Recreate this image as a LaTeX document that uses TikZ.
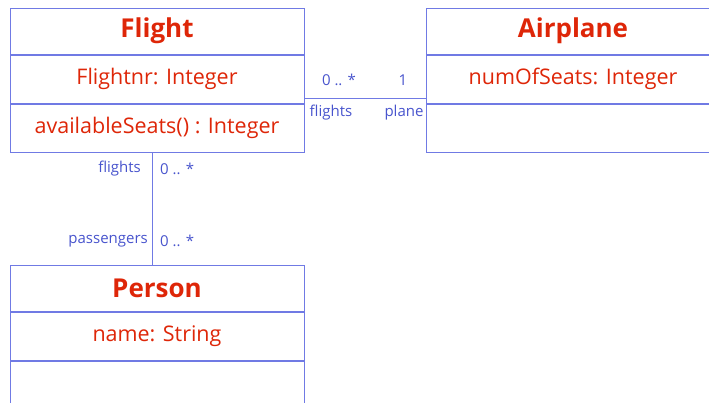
\documentclass[tikz,border=0pt]{standalone}
\usepackage{fontspec}
\setmainfont{Open Sans}
\usetikzlibrary{positioning}

\definecolor{classred}{RGB}{222,38,8}
\definecolor{boxblue}{RGB}{112,122,228}
\definecolor{roleblue}{RGB}{72,84,205}

\begin{document}
\begin{tikzpicture}[x=1pt, y=1pt,
    compart/.style={rectangle, draw=boxblue, line width=1pt, inner sep=0pt,
        minimum width=294pt, minimum height=48pt, text=classred,
        font=\fontsize{21.5}{21.5}\selectfont},
    classname/.style={compart, minimum height=46pt,
        font=\fontsize{26}{26}\selectfont\bfseries},
    role/.style={inner sep=1pt, text=roleblue, font=\fontsize{15}{15}\selectfont},
    assoc/.style={draw=boxblue, line width=1pt}
]
\useasboundingbox (0,0) rectangle (709,-402);
\clip (0,0) rectangle (709,-402);

% Flight
\node[classname] (flight) at (157,-31) {Flight};
\node[compart, below=0pt of flight] (flightattr) {Flightnr: Integer};
\node[compart, below=0pt of flightattr] (flightops) {availableSeats() : Integer};

% Airplane
\node[classname] (plane) at (573,-31) {Airplane};
\node[compart, below=0pt of plane] (planeattr) {numOfSeats: Integer};
\node[compart, below=0pt of planeattr] (planeops) {};

% Person
\node[classname] (person) at (157,-288) {Person};
\node[compart, below=0pt of person] (personattr) {name: String};
\node[compart, below=0pt of personattr] (personops) {};

% Flight -- Airplane
\draw[assoc] ([yshift=5pt]flightattr.south east) -- ([yshift=5pt]planeattr.south west);
\node[role] (m1) at (339,-80) {0 .. *};
\node[role] (m2) at (403,-80) {1};
\node[role] (r1) at (331,-113) {flights};
\node[role] (r2) at (404,-113) {plane};

% Flight -- Person
\draw[assoc] ([xshift=-5pt]flightops.south) -- ([xshift=-5pt]person.north);
\node[role, anchor=east] (r3) at (142,-169) {flights};
\node[role, anchor=west] (m3) at (159,-169) {0 .. *};
\node[role, anchor=east] (r4) at (149,-241) {passengers};
\node[role, anchor=west] (m4) at (159,-241) {0 .. *};
\end{tikzpicture}
\end{document}
